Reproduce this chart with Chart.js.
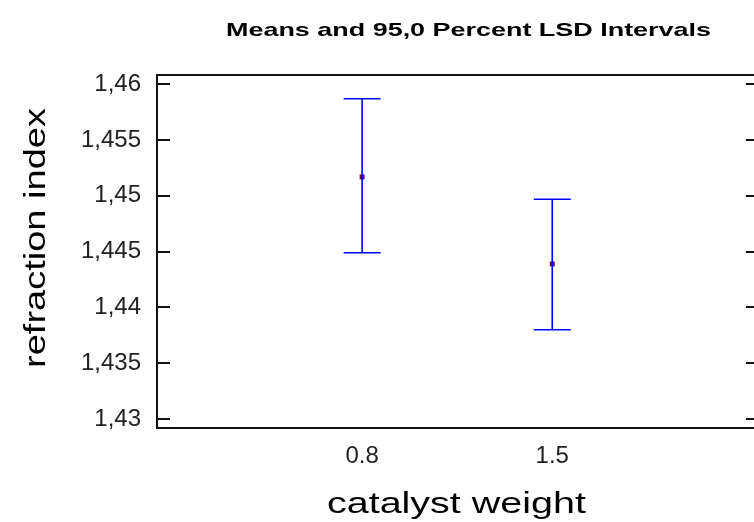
<!DOCTYPE html>
<html>
<head>
<meta charset="utf-8">
<title>Means and 95,0 Percent LSD Intervals</title>
<script src="https://cdn.jsdelivr.net/npm/chart.js@4/dist/chart.umd.min.js"></script>
<style>
  html, body { margin: 0; padding: 0; background: #fff; overflow: hidden; }
  #wrap { position: relative; width: 778px; height: 522px; }
</style>
</head>
<body>
<div id="wrap"><canvas id="lsdChart"></canvas></div>
<script>
// Catalyst weight levels and their LSD intervals
const categories = ['0.8', '1.5'];
const means = [1.4517, 1.4439];
const lowerLimits = [1.4449, 1.4380];
const upperLimits = [1.4587, 1.4497];

// Y axis ticks
const yTickValues = [1.43, 1.435, 1.44, 1.445, 1.45, 1.455, 1.46];
const yTickLabels = ['1,43', '1,435', '1,44', '1,445', '1,45', '1,455', '1,46'];

const BLUE = '#0000ff';
const FONT = '"Liberation Sans", Arial, sans-serif';

// one vertical segment per level
const intervalSets = categories.map((c, i) => ({
    type: 'scatter',
    data: [{ x: i + 1, y: lowerLimits[i] }, { x: i + 1, y: upperLimits[i] }],
    showLine: true,
    borderColor: BLUE,
    borderWidth: 1.6,
    pointRadius: 0
}));

// caps at both ends
const capSet = {
    type: 'scatter',
    data: categories.flatMap((c, i) => [
        { x: i + 1, y: lowerLimits[i] },
        { x: i + 1, y: upperLimits[i] }
    ]),
    pointStyle: 'line',
    pointRadius: 18.5,
    borderColor: BLUE,
    borderWidth: 1.6
};

const meanSet = {
    type: 'scatter',
    data: categories.map((c, i) => ({ x: i + 1, y: means[i] })),
    pointStyle: 'rect',
    pointRadius: 3.5,
    backgroundColor: '#6b0f4a',
    borderColor: '#6b0f4a',
    borderWidth: 0
};

// text drawn squeezed/stretched to a given width
function stretchedText(ctx, text, font, width) {
    ctx.font = font;
    const w = ctx.measureText(text).width;
    ctx.scale(width / w, 1);
    ctx.fillText(text, 0, 0);
}

// frame, inward tick marks on both sides and the titles
const framePlugin = {
    id: 'frame',
    afterDraw(chart) {
        const ctx = chart.ctx;
        const area = chart.chartArea;
        const yScale = chart.scales.y;
        ctx.save();
        ctx.strokeStyle = '#111';
        ctx.lineWidth = 2;
        ctx.strokeRect(area.left, area.top, area.right - area.left, area.bottom - area.top);
        ctx.beginPath();
        yScale.ticks.forEach(t => {
            const py = Math.round(yScale.getPixelForValue(t.value));
            ctx.moveTo(area.left, py);
            ctx.lineTo(area.left + 13, py);
            ctx.moveTo(area.right - 12, py);
            ctx.lineTo(area.right, py);
        });
        ctx.stroke();

        ctx.fillStyle = '#000';
        ctx.textAlign = 'center';
        ctx.textBaseline = 'alphabetic';

        ctx.save();
        ctx.translate(468.5, 36);
        stretchedText(ctx, 'Means and 95,0 Percent LSD Intervals', 'bold 19px ' + FONT, 485);
        ctx.restore();

        ctx.save();
        ctx.translate((area.left + area.right) / 2 - 1, 513);
        stretchedText(ctx, 'catalyst weight', '30px ' + FONT, 259);
        ctx.restore();

        ctx.save();
        ctx.translate(45, 238);
        ctx.rotate(-Math.PI / 2);
        stretchedText(ctx, 'refraction index', '30px ' + FONT, 260);
        ctx.restore();

        ctx.restore();
    }
};

const ctx = document.getElementById('lsdChart').getContext('2d');
const lsdChart = new Chart(ctx, {
    type: 'scatter',
    data: { datasets: [...intervalSets, capSet, meanSet] },
    options: {
        responsive: true,
        maintainAspectRatio: false,
        animation: false,
        layout: { padding: { top: 75, left: 0, right: 1, bottom: 0 } },
        plugins: {
            legend: { display: false },
            tooltip: { enabled: false }
        },
        scales: {
            x: {
                type: 'linear',
                min: -0.0787,
                max: 3.0814,
                grid: { display: false, drawTicks: false },
                border: { display: false },
                afterBuildTicks: scale => {
                    scale.ticks = categories.map((c, i) => ({ value: i + 1 }));
                },
                afterFit: scale => {
                    // labels sit well inside, no side padding needed
                    scale.height = 94;
                    scale.paddingLeft = 0;
                    scale.paddingRight = 0;
                },
                ticks: {
                    autoSkip: false,
                    maxRotation: 0,
                    padding: 14,
                    color: '#222',
                    font: { family: FONT, size: 24 },
                    callback: (v, i) => categories[i]
                }
            },
            y: {
                min: 1.429193,
                max: 1.460834,
                grid: { display: false, drawTicks: false },
                border: { display: false },
                afterBuildTicks: scale => {
                    scale.ticks = yTickValues.map(v => ({ value: v }));
                },
                afterFit: scale => { scale.width = 157; },
                ticks: {
                    autoSkip: false,
                    padding: 16,
                    color: '#222',
                    font: { family: FONT, size: 24 },
                    callback: (v, i) => yTickLabels[i]
                }
            }
        }
    },
    plugins: [framePlugin]
});
</script>
</body>
</html>
